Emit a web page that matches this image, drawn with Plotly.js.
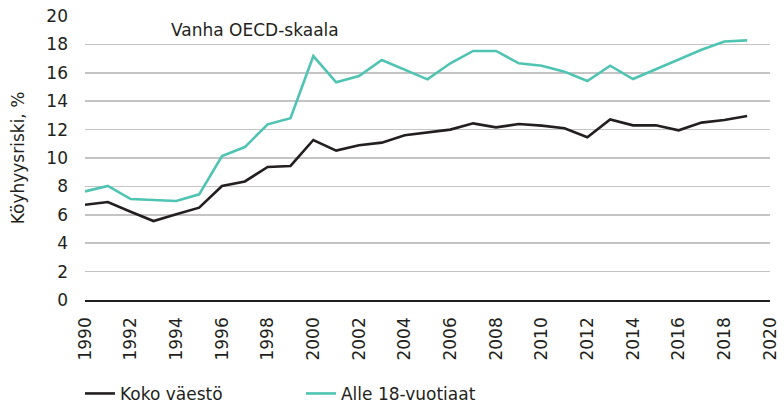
<!DOCTYPE html>
<html>
<head>
<meta charset="utf-8">
<script src="https://cdn.plot.ly/plotly-3.0.1.min.js"></script>
<style>html,body{margin:0;padding:0;background:#fff;}#chart{width:784px;height:404px;}</style>
</head>
<body>
<div id="chart"></div>
<script>
const years = [1990,1991,1992,1993,1994,1995,1996,1997,1998,1999,2000,2001,2002,2003,2004,2005,2006,2007,2008,2009,2010,2011,2012,2013,2014,2015,2016,2017,2018,2019];
const kokoVaesto = [6.71,6.9,6.22,5.56,6.03,6.5,8.03,8.35,9.37,9.44,11.27,10.52,10.9,11.08,11.6,11.82,12.0,12.44,12.16,12.39,12.28,12.1,11.46,12.72,12.3,12.3,11.95,12.49,12.68,12.96];
const alle18 = [7.65,8.03,7.11,7.04,6.97,7.44,10.14,10.77,12.37,12.8,17.18,15.33,15.77,16.9,16.24,15.54,16.67,17.54,17.54,16.67,16.5,16.08,15.42,16.5,15.56,16.26,16.93,17.62,18.2,18.28];
const seriesNames = ["Koko väestö", "Alle 18-vuotiaat"];
const xTicks = [1990,1992,1994,1996,1998,2000,2002,2004,2006,2008,2010,2012,2014,2016,2018,2020];
const yTicks = [0,2,4,6,8,10,12,14,16,18,20];
const scaleNote = "Vanha OECD-skaala";
const yTitle = "Köyhyysriski, %";

const FONT = "DejaVu Sans, sans-serif";
const TXT = "#231f20";

const traces = [
  {x: years, y: kokoVaesto, name: seriesNames[0], type: "scatter", mode: "lines",
   line: {color: "#231f20", width: 2.6}},
  {x: years, y: alle18, name: seriesNames[1], type: "scatter", mode: "lines",
   line: {color: "#4fc4b2", width: 2.6}}
];

const layout = {
  width: 784, height: 404,
  margin: {l: 85, r: 14, t: 16, b: 104},
  paper_bgcolor: "#fff", plot_bgcolor: "#fff",
  font: {family: FONT, size: 17, color: TXT},
  showlegend: true,
  legend: {orientation: "h", xref: "container", yref: "container", x: 0.102, xanchor: "left",
           y: 0.025, yanchor: "middle",
           font: {family: FONT, size: 17, color: TXT}, entrywidth: 176, entrywidthmode: "pixels",
           bgcolor: "rgba(0,0,0,0)"},
  xaxis: {range: [1990, 2020], tickvals: xTicks, ticktext: xTicks.map(String), tickangle: -90,
          automargin: false,
          showgrid: false, zeroline: false, showline: true, linecolor: "#231f20", linewidth: 1.5,
          ticks: "", ticklabelstandoff: 9, tickfont: {family: FONT, size: 17, color: TXT}},
  yaxis: {range: [0, 20], tickvals: yTicks, ticktext: yTicks.map(String), automargin: false,
          showgrid: true, gridcolor: "#c4c4c4", gridwidth: 1.5, zeroline: false, showline: false,
          ticks: "", ticklabelstandoff: 16, tickfont: {family: FONT, size: 17, color: TXT},
          title: {text: yTitle, font: {family: FONT, size: 17, color: TXT}, standoff: 17}},
  annotations: [
    {text: scaleNote, xref: "paper", yref: "paper", x: 0.248, y: 0.95, xanchor: "center", yanchor: "middle",
     showarrow: false, font: {family: FONT, size: 17, color: TXT}}
  ]
};

Plotly.newPlot("chart", traces, layout, {displayModeBar: false, staticPlot: true});
</script>
</body>
</html>
